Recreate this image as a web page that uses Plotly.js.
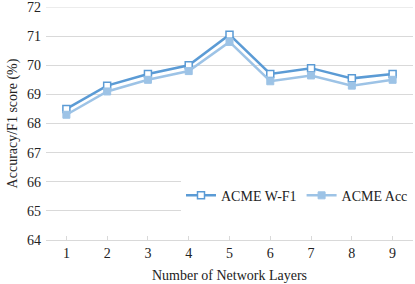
<!DOCTYPE html>
<html><head><meta charset="utf-8">
<script src="https://cdn.plot.ly/plotly-3.0.1.min.js"></script>
<style>html,body{margin:0;padding:0;background:#fff}#c{width:415px;height:284px}</style>
</head><body><div id="c"></div>
<script>
const layers = ["1","2","3","4","5","6","7","8","9"];
const wf1 = [68.5, 69.3, 69.7, 70.0, 71.05, 69.7, 69.9, 69.55, 69.7];
const acc = [68.3, 69.1, 69.5, 69.8, 70.8, 69.45, 69.65, 69.3, 69.5];
const yTicks = [64,65,66,67,68,69,70,71,72];

const font = {family: '"Liberation Serif", "Times New Roman", serif', size: 14, color: '#222'};
const traces = [
  {x: layers, y: wf1, name: 'ACME W-F1', type: 'scatter', mode: 'lines+markers',
   line: {color: '#5B9BD5', width: 2.5},
   marker: {symbol: 'square', size: 7, color: '#ffffff', line: {color: '#5B9BD5', width: 1.5}}},
  {x: layers, y: acc, name: 'ACME Acc', type: 'scatter', mode: 'lines+markers',
   line: {color: '#9DC3E6', width: 2.5},
   marker: {symbol: 'square', size: 7, color: '#9DC3E6', line: {color: '#9DC3E6', width: 1}}}
];
const layout = {
  width: 415, height: 284,
  margin: {l: 46, r: 2, t: 7, b: 44},
  paper_bgcolor: '#fff', plot_bgcolor: '#fff',
  font: font,
  showlegend: true,
  legend: {orientation: 'h', x: 1.0, xanchor: 'right', y: 0.19, yanchor: 'middle',
    bgcolor: '#ffffff', font: font, itemwidth: 30, tracegroupgap: 0},
  xaxis: {type: 'category', range: [-0.5, 8.5], showgrid: false, zeroline: false,
    showline: true, linecolor: '#D9D9D9', linewidth: 1,
    ticks: 'inside', ticklen: 4, tickcolor: '#D9D9D9',
    tickfont: font, title: {text: 'Number of Network Layers', font: font, standoff: 10}},
  yaxis: {range: [64, 72], tickvals: yTicks, ticktext: yTicks.map(String),
    showgrid: true, gridcolor: '#D9D9D9', gridwidth: 1, zeroline: false, showline: false,
    ticks: '', tickfont: font, ticklabelstandoff: 4, ticklabeloverflow: 'allow',
    title: {text: 'Accuracy/F1 score (%)', font: font, standoff: 6}},
  shapes: [{type: 'line', xref: 'paper', yref: 'y', x0: 0, x1: 1, y0: 72, y1: 72,
    line: {color: '#D9D9D9', width: 1}}]
};
Plotly.newPlot('c', traces, layout, {staticPlot: true, displayModeBar: false});
</script></body></html>
